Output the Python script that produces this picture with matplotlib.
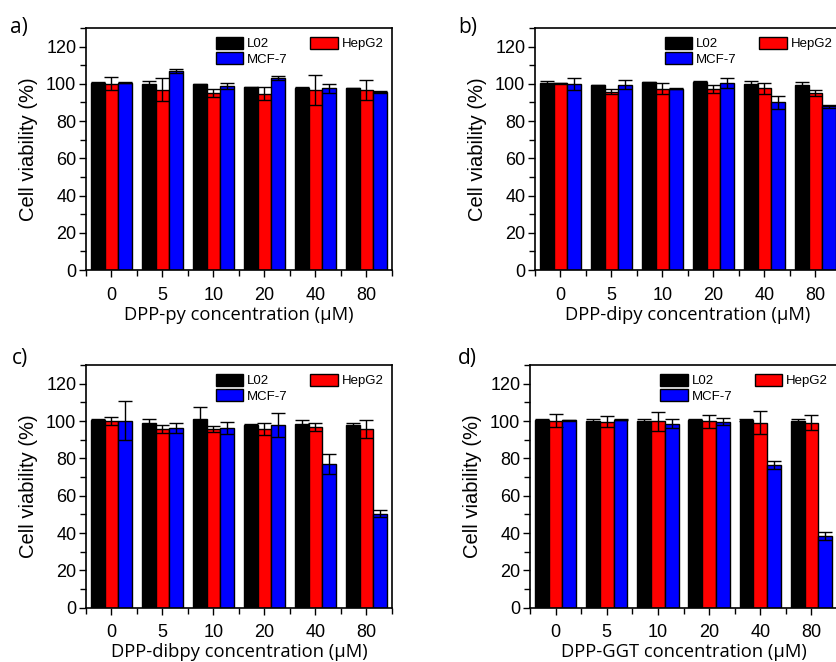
import matplotlib
matplotlib.use("Agg")
import matplotlib.pyplot as plt
import numpy as np
from matplotlib.patches import Patch
from matplotlib.ticker import MultipleLocator

plt.rcParams['font.family'] = ['Liberation Sans', 'DejaVu Sans']

concentrations = ["0", "5", "10", "20", "40", "80"]
series = ["L02", "HepG2", "MCF-7"]
colors = ["#000000", "#ff0000", "#0000ff"]

# panel a: DPP-py
a_L02 = [100.7, 99.8, 99.8, 98.2, 98.0, 97.6]
a_L02_err = [0.3, 1.5, 0.3, 0.3, 0.3, 0.3]
a_HepG2 = [100.1, 96.9, 95.1, 94.8, 96.6, 96.6]
a_HepG2_err = [3.4, 6.0, 2.0, 3.6, 8.2, 5.4]
a_MCF7 = [100.5, 106.8, 98.7, 103.0, 97.6, 95.5]
a_MCF7_err = [0.3, 1.0, 1.7, 1.2, 2.3, 0.5]

# panel b: DPP-dipy
b_L02 = [100.3, 99.2, 100.9, 101.2, 100.1, 99.6]
b_L02_err = [1.1, 0.3, 0.3, 0.3, 1.5, 1.3]
b_HepG2 = [100.3, 95.8, 97.5, 97.3, 97.6, 95.3]
b_HepG2_err = [0.3, 1.2, 3.0, 2.0, 2.9, 1.6]
b_MCF7 = [100.1, 99.6, 97.5, 100.5, 90.1, 88.0]
b_MCF7_err = [3.3, 2.2, 0.3, 2.7, 3.6, 0.9]

# panel c: DPP-dibpy
c_L02 = [100.7, 98.9, 100.9, 97.8, 98.5, 97.8]
c_L02_err = [0.5, 2.3, 6.4, 0.4, 1.8, 0.9]
c_HepG2 = [100.1, 95.7, 95.7, 95.7, 96.9, 95.5]
c_HepG2_err = [2.2, 2.0, 1.8, 3.2, 2.3, 4.8]
c_MCF7 = [100.1, 96.4, 96.2, 98.0, 76.9, 50.4]
c_MCF7_err = [10.4, 2.7, 3.4, 6.4, 5.5, 2.0]

# panel d: DPP-GGT
d_L02 = [100.7, 100.1, 99.9, 100.7, 100.7, 100.1]
d_L02_err = [0.5, 0.9, 1.1, 0.3, 0.5, 0.9]
d_HepG2 = [100.1, 99.6, 99.8, 99.8, 99.2, 99.2]
d_HepG2_err = [3.4, 2.9, 5.1, 3.6, 6.3, 3.8]
d_MCF7 = [100.5, 100.7, 98.5, 99.6, 76.4, 38.4]
d_MCF7_err = [0.3, 0.3, 2.4, 1.8, 2.3, 2.2]

panels = [
    ("a)", "DPP-py concentration (\u03bcM)", [a_L02, a_HepG2, a_MCF7], [a_L02_err, a_HepG2_err, a_MCF7_err]),
    ("b)", "DPP-dipy concentration (\u03bcM)", [b_L02, b_HepG2, b_MCF7], [b_L02_err, b_HepG2_err, b_MCF7_err]),
    ("c)", "DPP-dibpy concentration (\u03bcM)", [c_L02, c_HepG2, c_MCF7], [c_L02_err, c_HepG2_err, c_MCF7_err]),
    ("d)", "DPP-GGT concentration (\u03bcM)", [d_L02, d_HepG2, d_MCF7], [d_L02_err, d_HepG2_err, d_MCF7_err]),
]

W, H = 837, 662
fig = plt.figure(figsize=(W / 100, H / 100), dpi=100)

# axes rectangles in pixels: (left, top, right, bottom)
rects = [(86, 28, 392, 270), (535, 28, 841, 270), (86, 365, 392, 607.7), (530, 365, 837, 607.7)]
letter_pos = [(10, 28), (458, 28), (12, 358), (458, 358)]

x = np.arange(len(concentrations))
bw = 0.27
offsets = [-bw, 0.0, bw]

for (letter, xlabel, vals, errs), (l, t, r, b), (lx, ly) in zip(panels, rects, letter_pos):
    ax = fig.add_axes([l / W, 1 - b / H, (r - l) / W, (b - t) / H])
    for vi, (v, e, c, off) in enumerate(zip(vals, errs, colors, offsets)):
        ax.bar(x + off, v, width=bw, color=c, edgecolor="black", linewidth=1.0,
               yerr=e, capsize=5, error_kw=dict(ecolor="black", elinewidth=1.0, capthick=1.0),
               zorder=2)
    ax.set_xlim(-0.5, len(concentrations) - 0.5)
    ax.set_ylim(0, 130)
    ax.yaxis.set_major_locator(MultipleLocator(20))
    ax.yaxis.set_minor_locator(MultipleLocator(10))
    ax.set_yticks([0, 20, 40, 60, 80, 100, 120])
    ax.set_xticks(x)
    ax.set_xticklabels(concentrations)
    ax.set_xticks(np.arange(-0.5, len(concentrations), 1.0), minor=True)
    ax.tick_params(axis="both", which="major", direction="out", length=5, width=1.0,
                   labelsize=13, pad=2)
    ax.tick_params(axis="both", which="minor", direction="out", length=4, width=1.0)
    ax.tick_params(axis="x", which="major", pad=7)
    for s in ax.spines.values():
        s.set_linewidth(1.2)
    ax.set_ylabel("Cell viability (%)", fontsize=14.5, labelpad=6)
    ax.set_xlabel(xlabel, fontsize=13.2, family=["Open Sans", "DejaVu Sans"], labelpad=1.5)

    h1 = [Patch(facecolor=colors[0], edgecolor="black", linewidth=1.0, label=series[0]),
          Patch(facecolor=colors[2], edgecolor="black", linewidth=1.0, label=series[2])]
    h2 = [Patch(facecolor=colors[1], edgecolor="black", linewidth=1.0, label=series[1])]
    kw = dict(frameon=False, fontsize=9.5, handlelength=2.1, handleheight=1.05,
              handletextpad=0.3, labelspacing=0.12, borderpad=0.2, borderaxespad=0)
    leg1 = ax.legend(handles=h1, loc="upper left", bbox_to_anchor=(0.415, 0.975), **kw)
    ax.add_artist(leg1)
    ax.legend(handles=h2, loc="upper left", bbox_to_anchor=(0.723, 0.975), **kw)

    fig.text(lx / W, 1 - ly / H, letter, fontsize=15, family=["Open Sans", "DejaVu Sans"],
             va="center", ha="left")

fig.savefig("out.png", dpi=100)
